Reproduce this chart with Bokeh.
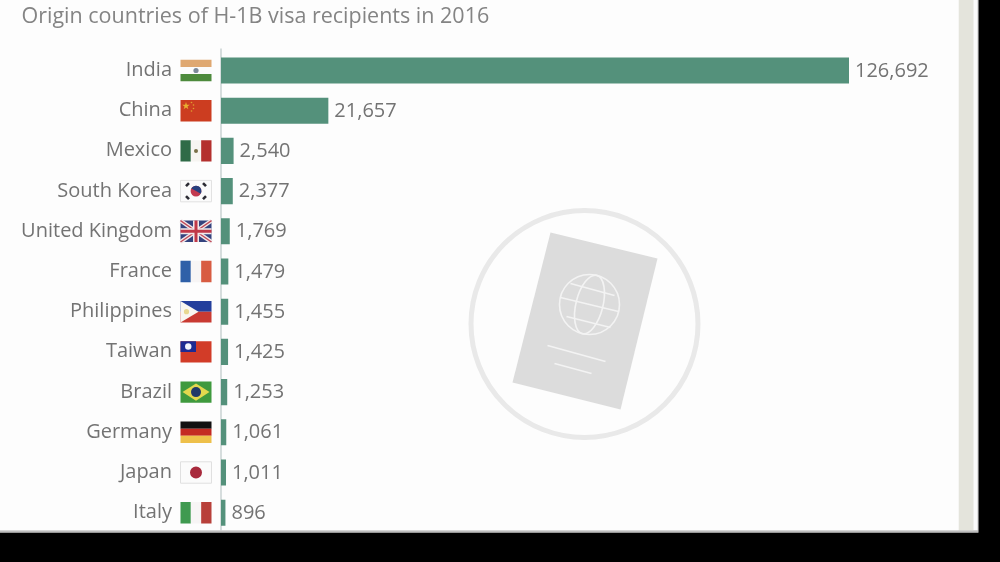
from bokeh.plotting import figure
from bokeh.models import Range1d
from bokeh.embed import file_html
from bokeh.resources import INLINE
from bokeh.core.properties import value

title = "Origin countries of H-1B visa recipients in 2016"
countries = ["India", "China", "Mexico", "South Korea", "United Kingdom", "France",
             "Philippines", "Taiwan", "Brazil", "Germany", "Japan", "Italy"]
recipients = [126692, 21657, 2540, 2377, 1769, 1479, 1455, 1425, 1253, 1061, 1011, 896]

W, H = 1000, 562
M = 1  # the figure overhangs the window by this much, hiding its edge pixel
ROW0, PITCH = 70.0, 40.2
PX_PER = 628.0 / 126692
X0 = 220.5

p = figure(width=W + 2 * M, height=H + 2 * M, output_backend="svg", toolbar_location=None,
           x_range=Range1d((-M - X0) / PX_PER, (W + M - X0) / PX_PER),
           y_range=Range1d((H + M - ROW0) / PITCH, (-M - ROW0) / PITCH),
           x_axis_type=None, y_axis_type=None, min_border=0,
           outline_line_color=None, background_fill_color="#fdfdfd",
           border_fill_color="#fdfdfd",
           styles={"position": "fixed", "left": f"{-M}px", "top": f"{-M}px"})
p.grid.visible = False
p.extra_x_ranges["px"] = Range1d(-M, W + M)
p.extra_y_ranges["px"] = Range1d(H + M, -M)
PXK = dict(x_range_name="px", y_range_name="px")


def box(l, t, r, b, c, line=None):
    p.quad(left=[l], right=[r], top=[t], bottom=[b], fill_color=c,
           line_color=line, line_width=1 if line else 0, **PXK)


def poly(xs, ys, c):
    p.patch(xs, ys, fill_color=c, line_color=None, **PXK)


def seg(x0, y0, x1, y1, c, w):
    p.line([x0, x1], [y0, y1], line_color=c, line_width=w, **PXK)


def dot(x, y, r, c):
    p.circle([x], [y], radius=r, fill_color=c, line_color=None, **PXK)


# page panels
box(-5, -5, 978, 532, "#c4c4c4")
box(-5, -5, 977, 530, "#fbfbfb")
box(958, -5, 973, 530, "#e4e4dc")
box(-5, -5, 958, 530, "#fdfdfd")

# passport watermark
p.circle([584], [323.5], radius=113.5, fill_color=None, line_color="#e9e9e9", line_width=5, **PXK)
poly([550, 657, 620, 512], [232, 258, 409, 382], "#dcdcdc")
GL = "#f3f3f3"
p.circle([589], [304], radius=30, fill_color=None, line_color=GL, line_width=1.6, **PXK)
p.ellipse([589], [304], width=[27], height=[60], angle=[-0.245], fill_color=None,
          line_color=GL, line_width=1.6, **PXK)
seg(570, 283, 614, 295, GL, 1.6)
seg(560, 297, 618, 311, GL, 1.6)
seg(566, 316, 610, 327, GL, 1.6)
seg(547, 345, 605, 361, GL, 1.6)
seg(554, 363, 591, 373, GL, 1.6)

# axis line
seg(220.5, 48, 220.5, 530, "#c9d2d2", 1.5)

# title
p.text([21], [13.5], text=[title], text_font=value("Open Sans"), text_font_size="21.5px",
       text_color="#848484", text_align="left", text_baseline="middle", **PXK)

# bars
rows = list(range(len(countries)))
p.quad(left=[0] * len(rows), right=recipients,
       top=[r - 0.325 for r in rows], bottom=[r + 0.325 for r in rows],
       fill_color="#54917b", line_color=None)

# labels
p.text(x=[171.5] * len(rows), y=rows, text=countries, text_font=value("Open Sans"),
       text_font_size="20px", text_color="#737373", text_align="right",
       text_baseline="middle", x_range_name="px", y_offset=-2)
p.text(x=recipients, y=rows, text=[f"{v:,}" for v in recipients], text_font=value("Open Sans"),
       text_font_size="20px", text_color="#737373", text_align="left",
       text_baseline="middle", x_offset=6, y_offset=-1)

# flags
L, R = 180.0, 211.0
for i, name in enumerate(countries):
    cy = ROW0 + PITCH * i
    T, B = cy - 10.7, cy + 10.7
    h = B - T
    w = R - L
    if name == "India":
        box(L, T, R, T + h / 3, "#dfa871")
        box(L, T + h / 3, R, B - h / 3, "#fbfbfb")
        box(L, B - h / 3, R, B, "#4d8a3c")
        dot((L + R) / 2, cy, 2.6, "#7d8a9a")
    elif name == "China":
        box(L, T, R, B, "#cc3d20")
        p.scatter([L + 5.5], [T + 6], marker="star", size=8, fill_color="#e8b030", line_color=None, **PXK)
        for dx, dy in [(11, 2.5), (13, 5), (13, 8.5), (11, 11)]:
            dot(L + dx, T + dy, 0.8, "#e0a030")
    elif name == "Mexico":
        box(L, T, L + w / 3, B, "#2f6b47")
        box(L + w / 3, T, R - w / 3, B, "#f7f5f2")
        box(R - w / 3, T, R, B, "#b4302e")
        dot((L + R) / 2, cy, 2, "#7a7048")
    elif name == "South Korea":
        box(L, T, R, B, "#fbfbfb", "#e2e2e2")
        cx = (L + R) / 2
        dot(cx, cy, 5.4, "#c23a50")
        p.wedge([cx], [cy], radius=5.4, start_angle=[-0.5], end_angle=[2.64], fill_color="#27407f",
                line_color=None, **PXK)
        for sx, sy in [(-1, -1), (1, -1), (-1, 1), (1, 1)]:
            seg(cx + sx * 7, cy + sy * 8, cx + sx * 10, cy + sy * 5, "#2c2c34", 2.6)
    elif name == "United Kingdom":
        box(L, T, R, B, "#34437e")
        seg(L, T, R, B, "#f0e8ea", 4)
        seg(L, B, R, T, "#f0e8ea", 4)
        seg(L, T, R, B, "#c04a58", 1.3)
        seg(L, B, R, T, "#c04a58", 1.3)
        seg((L + R) / 2, T, (L + R) / 2, B, "#f0e8ea", 6)
        seg(L, cy, R, cy, "#f0e8ea", 6)
        seg((L + R) / 2, T, (L + R) / 2, B, "#c03848", 3)
        seg(L, cy, R, cy, "#c03848", 3)
    elif name == "France":
        box(L, T, L + w / 3, B, "#2f60a8")
        box(L + w / 3, T, R - w / 3, B, "#f7f5f5")
        box(R - w / 3, T, R, B, "#d85c42")
    elif name == "Philippines":
        box(L, T, R, cy, "#233f9c")
        box(L, cy, R, B, "#c93a32")
        poly([L, L + 18, L], [T, cy, B], "#f8f6f0")
        dot(L + 6, cy, 2.6, "#e8d890")
    elif name == "Taiwan":
        box(L, T, R, B, "#d23c28")
        box(L, T, L + w / 2, cy, "#1d2a92")
        dot(L + w / 4, T + h / 4, 3.2, "#f4f4fa")
    elif name == "Brazil":
        box(L, T, R, B, "#3f9a3e")
        poly([L + 2, (L + R) / 2, R - 2, (L + R) / 2], [cy, T + 2, cy, B - 2], "#e2d84e")
        dot((L + R) / 2, cy, 5, "#1f3a68")
    elif name == "Germany":
        box(L, T, R, T + h / 3, "#111111")
        box(L, T + h / 3, R, B - h / 3, "#c42a22")
        box(L, B - h / 3, R, B, "#eec04a")
    elif name == "Japan":
        box(L, T, R, B, "#fbfbfb", "#e0e0e0")
        dot((L + R) / 2, cy, 6, "#a82a3c")
    elif name == "Italy":
        box(L, T, L + w / 3, B, "#3f9a50")
        box(L + w / 3, T, R - w / 3, B, "#f7f5f5")
        box(R - w / 3, T, R, B, "#b8403a")

# black area around the photographed page
box(-5, 532, W + 5, H + 5, "#000000")
box(-5, 530, 978, 532, "#bdbdbd")
box(978, -5, W + 5, H + 5, "#000000")

open("out.html", "w").write(file_html(p, INLINE))
